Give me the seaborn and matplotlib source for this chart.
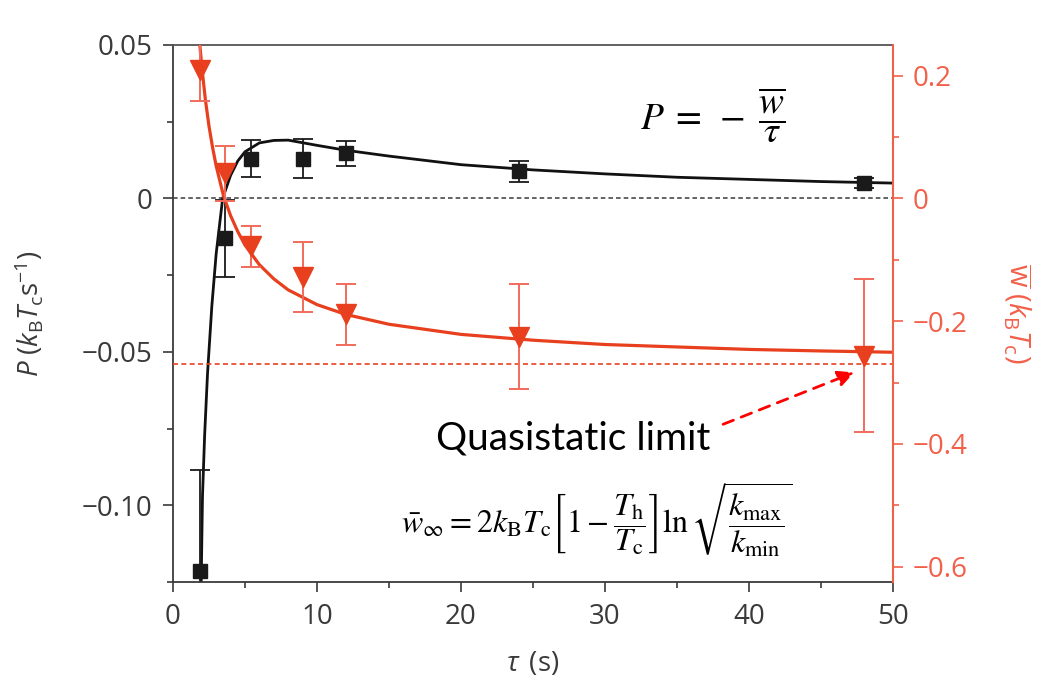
import numpy as np
import matplotlib
matplotlib.use("Agg")
import matplotlib.pyplot as plt
from matplotlib.ticker import MultipleLocator, FixedLocator
import seaborn as sns

# measured points: power P (left axis) and work w (right axis)
tau_pts = [1.85, 3.6, 5.45, 9.0, 12.0, 24.0, 48.0]
P_vals = [-0.1215, -0.0130, 0.0130, 0.0130, 0.0147, 0.0088, 0.0050]
P_err = [0.033, 0.0125, 0.006, 0.0065, 0.004, 0.0035, 0.0015]
w_vals = [0.21, 0.041, -0.078, -0.128, -0.189, -0.225, -0.256]
w_err = [0.052, 0.045, 0.033, 0.057, 0.05, 0.085, 0.124]

# fitted curves
P_fit_tau = [1.96, 2.05, 2.2, 2.4, 2.7, 3.0, 3.45, 4.0, 4.5, 5.0, 6.0, 7.0, 8.0,
             10, 12, 15, 20, 25, 30, 35, 40, 45, 50]
P_fit = [-0.125, -0.097, -0.077, -0.057, -0.035, -0.018, 0.0, 0.0075, 0.0122,
         0.0152, 0.0181, 0.0189, 0.0190, 0.0173, 0.0157, 0.0138, 0.0110, 0.0093,
         0.0080, 0.0069, 0.0062, 0.0055, 0.0050]
w_fit_tau = [1.85, 2.0, 2.25, 2.5, 2.75, 3.0, 3.5, 4.0, 4.5, 5.0, 6.0, 7.0, 8.0,
             10, 12, 15, 20, 25, 30, 35, 40, 45, 50]
w_fit = [0.254, 0.215, 0.161, 0.118, 0.083, 0.053, 0.005, -0.028, -0.054,
         -0.076, -0.108, -0.131, -0.149, -0.173, -0.189, -0.205, -0.2215,
         -0.231, -0.238, -0.242, -0.246, -0.2485, -0.2506]
w_limit = -0.27

red = "#e8401e"
red_light = "#f26b5b"
red_axis = "#f2604a"
grey = "#3a3a3a"

sns.set_theme(style="ticks")
plt.rcParams["font.family"] = ["Open Sans", "DejaVu Sans"]
plt.rcParams["mathtext.fontset"] = "custom"
plt.rcParams["mathtext.rm"] = "Open Sans"
plt.rcParams["mathtext.it"] = "Open Sans:italic"

fig = plt.figure(figsize=(10.42, 6.87), dpi=100, facecolor="white")
ax = fig.add_axes([0.166, 0.1528, 0.691, 0.7817])
ax2 = ax.twinx()

# left axis: P
ax.axhline(0, color=grey, lw=1.1, ls=(0, (3, 2)))
sns.lineplot(x=P_fit_tau, y=P_fit, ax=ax, color="#111111", lw=2.0)
ax.errorbar(tau_pts, P_vals, yerr=P_err, fmt="s", color="#1a1a1a", ms=10,
            ecolor="#1a1a1a", elinewidth=1.3, capsize=7, capthick=1.3)
ax.set_xlim(0, 50)
ax.set_ylim(-0.125, 0.05)
ax.xaxis.set_major_locator(MultipleLocator(10))
ax.xaxis.set_minor_locator(MultipleLocator(5))
ax.yaxis.set_major_locator(FixedLocator([-0.10, -0.05, 0, 0.05]))
ax.yaxis.set_minor_locator(FixedLocator([-0.125, -0.075, -0.025, 0.025]))
ax.set_yticklabels(["\u22120.10", "\u22120.05", "0", "0.05"])
ax.tick_params(axis="both", which="major", length=7, width=1.2, color=grey,
               labelsize=20, labelcolor=grey, pad=8)
ax.tick_params(axis="both", which="minor", length=4, width=1.2, color=grey)
for s in ["left", "bottom"]:
    ax.spines[s].set_color(grey)
    ax.spines[s].set_linewidth(1.3)
ax.spines["top"].set_color("#555555")
ax.spines["top"].set_linewidth(1.3)
ax.set_xlabel(r"$\tau\,$ (s)", fontsize=20, color=grey, labelpad=14)
ax.set_ylabel(r"$P\;(k_\mathrm{B}T_\mathrm{c}\mathrm{s}^{-1})$", fontsize=20,
              color=grey, labelpad=26)

# right axis: w
ax2.axhline(w_limit, color=red, lw=1.2, ls=(0, (3, 2)))
sns.lineplot(x=w_fit_tau, y=w_fit, ax=ax2, color=red, lw=2.3)
ax2.errorbar(tau_pts, w_vals, yerr=w_err, fmt="none", ecolor=red_light,
             elinewidth=1.4, capsize=7, capthick=1.4)
ax2.plot(tau_pts, w_vals, "v", color=red, ms=14, ls="none")
ax2.set_ylim(-0.625, 0.25)
ax2.yaxis.set_major_locator(FixedLocator([-0.6, -0.4, -0.2, 0, 0.2]))
ax2.yaxis.set_minor_locator(FixedLocator([-0.5, -0.3, -0.1, 0.1]))
ax2.set_yticklabels(["\u22120.6", "\u22120.4", "\u22120.2", "0", "0.2"])
ax2.tick_params(axis="y", which="major", length=7, width=1.2, color=red_axis,
                labelsize=20, labelcolor=red_axis, pad=7)
ax2.tick_params(axis="y", which="minor", length=4, width=1.2, color=red_axis)
ax2.spines["right"].set_color(red_axis)
ax2.spines["right"].set_linewidth(1.5)
ax2.spines["top"].set_visible(False)
ax2.spines["left"].set_visible(False)
ax2.spines["bottom"].set_visible(False)
ax2.set_ylabel(r"$\overline{\mathrm{w}}\;(k_\mathrm{B}T_\mathrm{c})$", fontsize=21,
               color=red_axis, rotation=270, labelpad=48)

# annotations
ax.text(37.5, 0.0275, r"$P\;=\;-\;\dfrac{\overline{w}}{\tau}$", fontsize=27,
        ha="center", va="center", math_fontfamily="stix", color="black")
ax.text(27.8, -0.0782, "Quasistatic limit", fontsize=28, family="Lato",
        ha="center", va="center", color="black")
ax.text(29.4, -0.1045,
        r"$\bar{w}_\infty = 2k_\mathrm{B}T_\mathrm{c}\left[1-\dfrac{T_\mathrm{h}}{T_\mathrm{c}}\right]"
        r"\ln\sqrt{\dfrac{k_\mathrm{max}}{k_\mathrm{min}}}$",
        fontsize=23, ha="center", va="center", math_fontfamily="stix", color="black")
ax.annotate("", xy=(47.3, -0.0567), xytext=(38.2, -0.0736),
            arrowprops=dict(arrowstyle="-|>,head_length=0.8,head_width=0.4",
                            color="red", lw=2, ls=(0, (4, 3)),
                            shrinkA=0, shrinkB=0))

fig.savefig("out.png", dpi=100, facecolor="white")
